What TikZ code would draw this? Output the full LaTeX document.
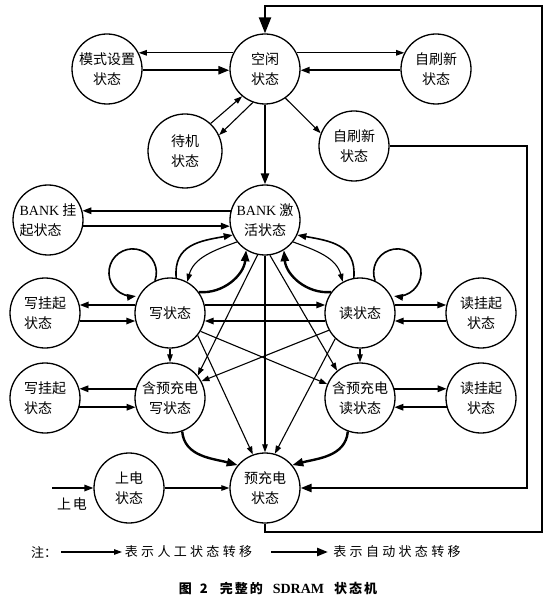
\documentclass[tikz,border=0pt]{standalone}
\usepackage{fontspec}
\setmainfont{Noto Sans CJK SC}
\newfontfamily\lat{Liberation Serif}
\usetikzlibrary{arrows.meta}
\newcommand\lsp{\hspace{3.3pt}}
\newcommand\csp{\hspace{2pt}}
\begin{document}
\begin{tikzpicture}[x=1pt,y=-1pt,
  st/.style={circle,draw,line width=1.3pt,minimum size=70pt,inner sep=0pt,align=center,font=\fontsize{14}{20}\selectfont},
  stl/.style={st,align=left},
  man/.style={line width=1.1pt,-{Triangle[length=8pt,width=5.5pt]}},
  mid/.style={line width=1.6pt,-{Triangle[length=9pt,width=6.5pt]}},
  aut/.style={line width=2.4pt,-{Triangle[length=11pt,width=8pt]}},
  lbl/.style={font=\fontsize{14}{16}\selectfont,inner sep=0pt},
  leg/.style={font=\fontsize{13}{15}\selectfont,inner sep=0pt},
]
\useasboundingbox (0,0) rectangle (549,601);
% states
\node[st] (idle) at (265,69) {空闲\\状态};
\node[st] (mode) at (107,69) {模式设置\\状态};
\node[st] (sr1) at (436,69) {自刷新\\状态};
\node[st,minimum size=74pt] (stb) at (185,151) {待机\\状态};
\node[st] (sr2) at (354,146) {自刷新\\状态};
\node[stl] (bs) at (48,220) {{\lat BANK} 挂\\起状态};
\node[st] (ba) at (265,220) {{\lat BANK} 激\\活状态};
\node[stl] (ws1) at (45,313) {写挂起\\状态};
\node[st] (w) at (170,313) {写状态};
\node[st] (r) at (360,313) {读状态};
\node[st] (rs1) at (481,313) {读挂起\\状态};
\node[stl] (ws2) at (45,398) {写挂起\\状态};
\node[st] (wp) at (170,398) {含预充电\\写状态};
\node[st] (rp) at (360,398) {含预充电\\读状态};
\node[st] (rs2) at (481,398) {读挂起\\状态};
\node[st] (pu) at (129,488) {上电\\状态};
\node[st] (pre) at (265,488) {预充电\\状态};
% top part
\draw[man] (idle.153) -- (mode.27);
\draw[aut] (mode.-2) -- (idle.182);
\draw[man] (idle.27) -- (sr1.153);
\draw[mid] (sr1.182) -- (idle.-2);
\draw[man] (stb.47) -- (idle.230);
\draw[man] (idle.250) -- (stb.25);
\draw[man] (idle.-55) -- (sr2.159);
\draw[aut] (idle.south) -- (ba.north);
\coordinate (k1) at (527,146);
\draw[aut] (sr2.east) -- (k1) |- (pre.east);
\coordinate (k2) at (542,532);
\coordinate (k3) at (542,6);
\draw[line width=2.4pt,-{Triangle[length=16pt,width=12pt]}] (pre.south) |- (k2) -- (k3) -| (idle.north);
% bank
\draw[mid] (ba.165) -- (bs.15);
\draw[mid] (bs.-10) -- (ba.190);
\draw[mid] (w.80) to[out=95, in=190, looseness=1.2] (ba.205);
\draw[man] (ba.218) to[out=200, in=75] (w.61);
\draw[aut] (w.36) to[out=-5, in=265] (ba.238);
\draw[mid] (r.100) to[out=85, in=-10, looseness=1.2] (ba.335);
\draw[man] (ba.322) to[out=-20, in=105] (r.119);
\draw[aut] (r.144) to[out=185, in=275] (ba.302);
% self loops
\draw[mid] (w.115) arc[start angle=-20, end angle=278, radius=23.7pt];
\draw[mid] (r.65) arc[start angle=200, end angle=-98, radius=23.7pt];
% row 1
\draw[mid] (w.167) -- (ws1.13);
\draw[mid] (ws1.-13) -- (w.193);
\draw[mid] (w.13) -- (r.167);
\draw[mid] (r.193) -- (w.-13);
\draw[mid] (r.13) -- (rs1.167);
\draw[mid] (rs1.193) -- (r.-13);
% row 2
\draw[mid] (wp.165) -- (ws2.15);
\draw[mid] (ws2.-15) -- (wp.195);
\draw[mid] (rp.15) -- (rs2.165);
\draw[mid] (rs2.195) -- (rp.-15);
\draw[man] (w.south) -- (wp.north);
\draw[man] (r.south) -- (rp.north);
% crossing lines
\draw[man] (w.-39) -- (pre.110);
\draw[man] (w.-31) -- (rp.157);
\draw[man] (r.209) -- (wp.28);
\draw[man] (r.226) -- (pre.74);
\draw[man] (ba.south) -- (pre.north);
\draw[man] (ba.258) -- (wp.39);
\draw[man] (ba.278) -- (rp.130);
% bottom
\draw[aut] (wp.290) to[out=275, in=165] (pre.140);
\draw[aut] (rp.250) to[out=265, in=15] (pre.40);
\draw[man] (pu.east) -- (pre.west);
\coordinate (pin) at (52,488);
\draw[mid] (pin) -- (pu.west);
\node[lbl] (pul) at (72,504) {上\csp 电};
% legend
\node[leg,anchor=west] (note) at (31,552) {注：};
\coordinate (la1) at (61,552);
\coordinate (la2) at (122,552);
\draw[man] (la1) -- (la2);
\node[leg] (lt1) at (188.5,552) {表\lsp 示\lsp 人\lsp 工\lsp 状\lsp 态\lsp 转\lsp 移};
\coordinate (lb1) at (271,552);
\coordinate (lb2) at (328,552);
\draw[aut] (lb1) -- (lb2);
\node[leg] (lt2) at (397,552) {表\lsp 示\lsp 自\lsp 动\lsp 状\lsp 态\lsp 转\lsp 移};
\node[leg,font=\fontsize{13}{15}\selectfont\bfseries] (cap) at (278,588) {图\hspace{8pt}2\hspace{12pt}完\csp 整\csp 的\hspace{10pt}{\lat\fontsize{14}{15}\selectfont\bfseries SDRAM}\hspace{10pt}状\csp 态\csp 机};
\end{tikzpicture}
\end{document}
